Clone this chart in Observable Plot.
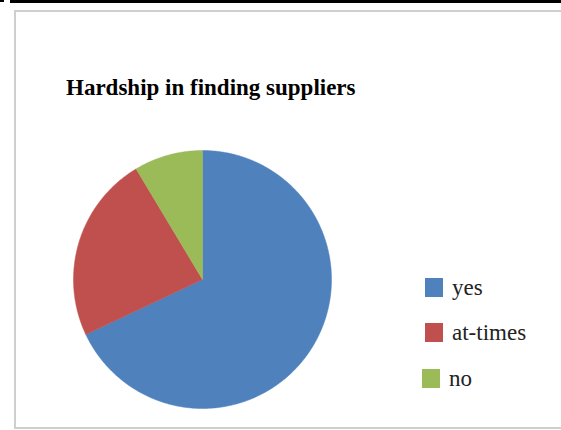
<!DOCTYPE html>
<html>
<head>
<meta charset="utf-8">
<script src="https://cdn.jsdelivr.net/npm/d3@7"></script>
<script src="https://cdn.jsdelivr.net/npm/@observablehq/plot@0.6"></script>
<style>
  html, body { margin: 0; padding: 0; background: #fff; overflow: hidden; }
  #wrap { position: relative; width: 561px; height: 430px; overflow: hidden; font-family: "Liberation Serif", "Times New Roman", serif; }
  #topbar { position: absolute; left: 10px; top: 0; width: 551px; height: 3px; background: #000; }
  #topbar2 { position: absolute; left: 0; top: 0; width: 4px; height: 2px; background: #000; }
  #frame { position: absolute; left: 14px; top: 10px; width: 547px; height: 419px; border-left: 2px solid #cfcfcf; border-top: 2px solid #cfcfcf; border-bottom: 2px solid #cfcfcf; box-sizing: border-box; }
  #title { position: absolute; left: 66px; top: 76px; font-weight: bold; font-size: 23px; line-height: 24px; color: #000; white-space: nowrap; }
  #chart { position: absolute; left: 0; top: 0; width: 561px; height: 430px; overflow: hidden; }
  #chart svg { display: block; }
  .lg { position: absolute; display: flex; align-items: center; font-size: 23px; color: #222; white-space: nowrap; }
  .sw { width: 18px; height: 19px; margin-right: 9px; }
</style>
</head>
<body>
<div id="wrap">
  <div id="topbar"></div>
  <div id="topbar2"></div>
  <div id="frame"></div>
  <div id="title">Hardship in finding suppliers</div>
  <div id="chart"></div>
  <div id="legend"></div>
</div>
<script>
const categories = ["yes", "at-times", "no"];
const values = [68, 23.4, 8.6];
const colors = ["#4F81BD", "#C0504D", "#9BBB59"];

// Build slice outlines (polar -> cartesian) from the values
const total = d3.sum(values);
const pts = [];
let start = 0;
categories.forEach((c, i) => {
  const a0 = start, a1 = start + values[i] / total * 2 * Math.PI;
  pts.push({cat: c, x: 0, y: 0});
  const n = Math.max(2, Math.ceil((a1 - a0) / (Math.PI / 360)));
  for (let k = 0; k <= n; k++) {
    const a = a0 + (a1 - a0) * k / n;
    pts.push({cat: c, x: Math.sin(a), y: Math.cos(a)});
  }
  pts.push({cat: c, x: 0, y: 0});
  start = a1;
});

const plot = Plot.plot({
  width: 561,
  height: 430,
  margin: 0,
  x: {domain: [-1, 1], range: [73, 331], axis: null},
  y: {domain: [-1, 1], range: [408, 150], axis: null},
  color: {domain: categories, range: colors},
  style: {background: "transparent"},
  marks: [
    Plot.line(pts, {x: "x", y: "y", z: "cat", fill: "cat", stroke: "cat", strokeWidth: 0.5, curve: "linear"})
  ]
});
document.getElementById("chart").appendChild(plot);

const legendTops = [278, 323, 369];
const legendLefts = [425, 425, 422];
const lg = document.getElementById("legend");
categories.forEach((c, i) => {
  const d = document.createElement("div");
  d.className = "lg";
  d.style.left = legendLefts[i] + "px";
  d.style.top = (legendTops[i] - 3) + "px";
  d.style.height = "25px";
  const s = document.createElement("div");
  s.className = "sw";
  s.style.background = colors[i];
  d.appendChild(s);
  const t = document.createElement("span");
  t.textContent = c;
  d.appendChild(t);
  lg.appendChild(d);
});
</script>
</body>
</html>
